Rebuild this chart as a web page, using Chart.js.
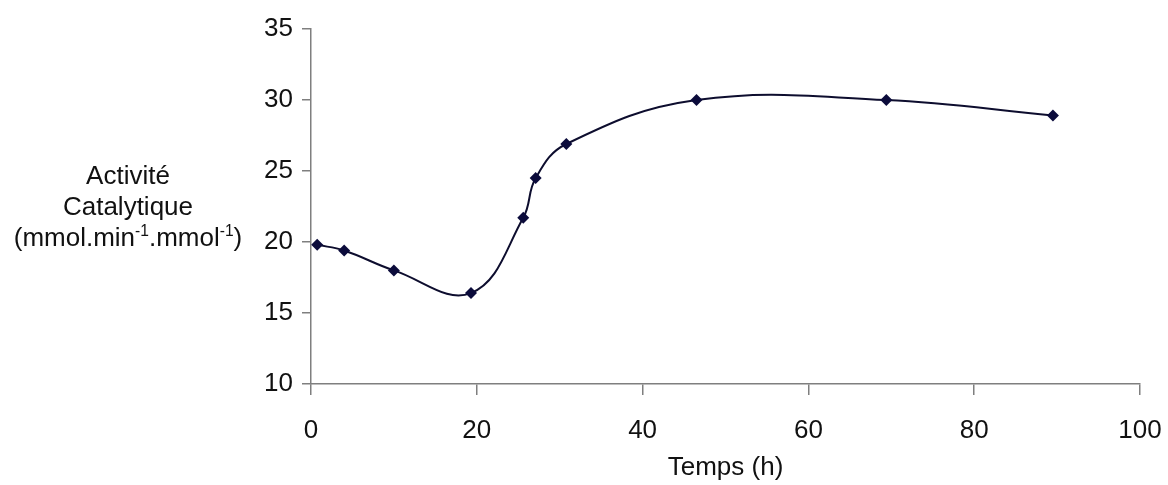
<!DOCTYPE html>
<html>
<head>
<meta charset="utf-8">
<script src="https://cdn.jsdelivr.net/npm/chart.js@4.4.1/dist/chart.umd.min.js"></script>
<style>
  body { margin: 0; background: #fff; }
  #wrap { position: relative; width: 1168px; height: 485px; }
  #ylabel {
    position: absolute; left: 0; top: 160px; width: 256px;
    text-align: center; font-family: "Liberation Sans", Arial, sans-serif;
    font-size: 26px; line-height: 31px; color: #111;
  }
  #ylabel sup { font-size: 0.6em; line-height: 0; }
</style>
</head>
<body>
<div id="wrap">
  <canvas id="chart" width="1168" height="485"></canvas>
  <div id="ylabel">Activité<br>Catalytique<br>(mmol.min<sup>-1</sup>.mmol<sup>-1</sup>)</div>
</div>
<script>
// temps (h) et activité catalytique
const timeH = [0.75, 4, 10, 19.3, 25.6, 27.1, 30.8, 46.5, 69.4, 89.5]
const activity = [19.8, 19.4, 18.0, 16.4, 21.7, 24.5, 26.9, 30.0, 30.0, 28.9]
const xTicks = [0, 20, 40, 60, 80, 100]
const yTicks = [10, 15, 20, 25, 30, 35]

const axisGrey = '#7f7f7f'
const tickFont = { family: 'Liberation Sans', size: 26 }

const points = timeH.map((t, i) => ({ x: t, y: activity[i] }))

new Chart(document.getElementById('chart'), {
    type: 'line',
    data: {
        datasets: [{
            data: points,
            borderColor: '#0d0d2e',
            borderWidth: 2,
            backgroundColor: '#0b0b3b',
            pointStyle: 'rectRot',
            pointRadius: 6,
            pointBorderWidth: 0,
            tension: 0.4,
            fill: false
        }]
    },
    options: {
        responsive: false,
        animation: false,
        layout: { padding: { top: 29, right: 28, left: 0, bottom: 0 } },
        plugins: { legend: { display: false }, tooltip: { enabled: false } },
        scales: {
            x: {
                type: 'linear',
                min: xTicks[0],
                max: xTicks[xTicks.length - 1],
                afterBuildTicks: s => { s.ticks = xTicks.map(v => ({ value: v })) },
                afterFit: s => { s.height = 101; s.paddingRight = 0; s.paddingLeft = 0 },
                ticks: { font: tickFont, color: '#111', padding: 20, maxRotation: 0 },
                grid: { drawOnChartArea: false, tickLength: 11, color: axisGrey, lineWidth: 1.5 },
                border: { color: axisGrey, width: 1.5 },
                title: {
                    display: true, text: 'Temps (h)', color: '#111',
                    font: { family: 'Liberation Sans', size: 26 }, padding: { top: 0, bottom: 2 }
                }
            },
            y: {
                min: yTicks[0],
                max: yTicks[yTicks.length - 1],
                afterBuildTicks: s => { s.ticks = yTicks.map(v => ({ value: v })) },
                afterFit: s => { s.width = 311; s.paddingTop = 0; s.paddingBottom = 0 },
                ticks: { font: tickFont, color: '#111', padding: 9 },
                grid: { drawOnChartArea: false, tickLength: 9, color: axisGrey, lineWidth: 1.5 },
                border: { color: axisGrey, width: 1.5 }
            }
        }
    }
})
</script>
</body>
</html>
